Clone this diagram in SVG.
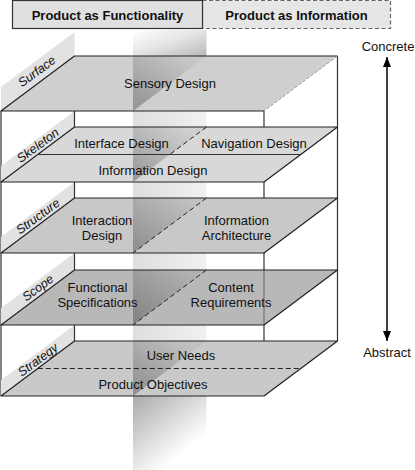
<svg xmlns="http://www.w3.org/2000/svg" width="415" height="470" viewBox="0 0 415 470">
<style>
.t{font-family:"Liberation Sans",Arial,sans-serif;font-size:13px;fill:#111;text-anchor:middle}
.b{font-weight:bold}
.lab{font-family:"Liberation Sans",Arial,sans-serif;font-size:12.5px;font-style:italic;fill:#111;text-anchor:middle}
.pl{stroke:#222;stroke-width:1.2;stroke-linejoin:round}
.strip{fill:#e2e2e2}
.edge{stroke:#333;stroke-width:1.2;fill:none}
.dash{stroke:#222;stroke-width:1;stroke-dasharray:5,3;fill:none}
.tri{fill:url(#triShade)}
</style>
<defs>
<linearGradient id="gapCol" x1="0" y1="0" x2="1" y2="0">
<stop offset="0" stop-color="#dedede"/><stop offset="1" stop-color="#f0f0f0"/>
</linearGradient>
<linearGradient id="topCol" x1="0" y1="0" x2="1" y2="1">
<stop offset="0" stop-color="#ffffff"/><stop offset="0.5" stop-color="#e4e4e4"/><stop offset="1" stop-color="#b8b8b8"/>
</linearGradient>
<linearGradient id="botCol" x1="0" y1="0" x2="0.8" y2="1">
<stop offset="0" stop-color="#aaaaaa"/><stop offset="0.8" stop-color="#ffffff"/>
</linearGradient>
<linearGradient id="triShade" x1="0" y1="1" x2="0.8" y2="0.1">
<stop offset="0" stop-color="#000" stop-opacity="0.3"/><stop offset="1" stop-color="#000" stop-opacity="0.04"/>
</linearGradient>
<marker id="ah" viewBox="0 0 10 8" refX="10" refY="4" markerWidth="10" markerHeight="8" markerUnits="userSpaceOnUse" orient="auto-start-reverse">
<path d="M0,0 L10,4 L0,8 z" fill="#000"/>
</marker>
</defs>

<g id="header-information">
<rect x="202.5" y="0.5" width="188" height="28" fill="#e6e6e6" stroke="#666" stroke-width="1.2" stroke-dasharray="4,2.5"/>
<text class="t b" x="296.5" y="19.5">Product as Information</text>
</g>
<g id="header-functionality">
<rect x="12.5" y="0.5" width="190" height="28" fill="#e0e0e0" stroke="#333" stroke-width="1.2"/>
<text class="t b" x="107.5" y="19.5">Product as Functionality</text>
</g>

<g id="divider-column">
<rect x="133" y="56" width="73.5" height="341" fill="url(#gapCol)"/>
<rect x="133" y="30" width="73.5" height="26" fill="url(#topCol)"/>
<rect x="133" y="396" width="73.5" height="74" fill="url(#botCol)"/>
</g>

<g id="frame">
<line class="edge" x1="337.5" y1="56" x2="337.5" y2="341" stroke="#888"/>
<line class="edge" x1="264" y1="111" x2="264" y2="396" stroke="#555"/>
<line class="edge" x1="1" y1="111" x2="1" y2="396"/>
</g>

<g id="strips">
<polygon class="strip" points="74.5,32 74.5,56 1,111 1,87"/>
<polygon class="strip" points="74.5,111 74.5,127 1,182 1,166"/>
<polygon class="strip" points="74.5,182 74.5,198 1,253 1,237"/>
<polygon class="strip" points="74.5,253 74.5,270 1,325 1,308"/>
<polygon class="strip" points="74.5,325 74.5,341 1,396 1,380"/>
<line class="edge" x1="74.5" y1="111" x2="74.5" y2="341"/>
</g>

<g id="label-surface"><text class="lab" transform="translate(37,71.5) rotate(-36.6)" y="4">Surface</text></g>
<g id="label-skeleton"><text class="lab" transform="translate(38,145.5) rotate(-36.6)" y="4">Skeleton</text></g>
<g id="label-structure"><text class="lab" transform="translate(38,216.5) rotate(-36.6)" y="4">Structure</text></g>
<g id="label-scope"><text class="lab" transform="translate(38,288) rotate(-36.6)" y="4">Scope</text></g>
<g id="label-strategy"><text class="lab" transform="translate(38,360) rotate(-36.6)" y="4">Strategy</text></g>

<g id="plane-surface">
<polygon points="74.5,56 337.5,56 264,111 1,111" fill="#cfcfcf"/>
<polygon class="tri" points="133,56 206.5,56 133,111"/>
<polyline class="pl" points="337.5,56 74.5,56 1,111 264,111" fill="none"/>
<line x1="337.5" y1="56" x2="264" y2="111" stroke="#999" stroke-width="1" stroke-dasharray="3,2"/>
<text class="t" x="170" y="88">Sensory Design</text>
</g>

<g id="plane-skeleton">
<polygon points="74.5,127 337.5,127 264,182 1,182" fill="#d8d8d8"/>
<polygon class="tri" points="133,127 206.5,127 133,182"/>
<polygon class="pl" points="74.5,127 337.5,127 264,182 1,182" fill="none"/>
<line class="edge" x1="37.75" y1="154.5" x2="300.75" y2="154.5" stroke="#222"/>
<line class="dash" x1="206.5" y1="127" x2="169.75" y2="154.5"/>
<text class="t" x="121.5" y="148">Interface Design</text>
<text class="t" x="254" y="148">Navigation Design</text>
<text class="t" x="153" y="175">Information Design</text>
</g>

<g id="plane-structure">
<polygon points="74.5,198 337.5,198 264,253 1,253" fill="#c8c8c8"/>
<polygon class="tri" points="133,198 206.5,198 133,253"/>
<polygon class="pl" points="74.5,198 337.5,198 264,253 1,253" fill="none"/>
<line class="dash" x1="206.5" y1="198" x2="133" y2="253"/>
<text class="t" x="102" y="224.5">Interaction</text>
<text class="t" x="102" y="239.5">Design</text>
<text class="t" x="236.5" y="224.5">Information</text>
<text class="t" x="236.5" y="239.5">Architecture</text>
</g>

<g id="plane-scope">
<polygon points="74.5,270 337.5,270 264,325 1,325" fill="#b8b8b8"/>
<polygon class="tri" points="133,270 206.5,270 133,325"/>
<line x1="264" y1="270" x2="264" y2="325" stroke="#666" stroke-width="1"/>
<polygon class="pl" points="74.5,270 337.5,270 264,325 1,325" fill="none"/>
<line class="dash" x1="206.5" y1="270" x2="133" y2="325"/>
<text class="t" x="97.5" y="292">Functional</text>
<text class="t" x="97.5" y="307">Specifications</text>
<text class="t" x="231" y="292">Content</text>
<text class="t" x="231" y="307">Requirements</text>
</g>

<g id="plane-strategy">
<polygon points="74.5,341 337.5,341 264,396 1,396" fill="#c9c9c9"/>
<polygon class="tri" points="133,341 206.5,341 133,396"/>
<polygon class="pl" points="74.5,341 337.5,341 264,396 1,396" fill="none"/>
<line class="dash" x1="37.75" y1="368.5" x2="300.75" y2="368.5"/>
<text class="t" x="181" y="360">User Needs</text>
<text class="t" x="153" y="388.5">Product Objectives</text>
</g>

<g id="connectors">
<line x1="387" y1="57" x2="387" y2="341" stroke="#000" stroke-width="1.5" marker-start="url(#ah)" marker-end="url(#ah)"/>
</g>
<g id="concrete"><text class="t" x="388" y="51">Concrete</text></g>
<g id="abstract"><text class="t" x="387" y="357">Abstract</text></g>
</svg>
